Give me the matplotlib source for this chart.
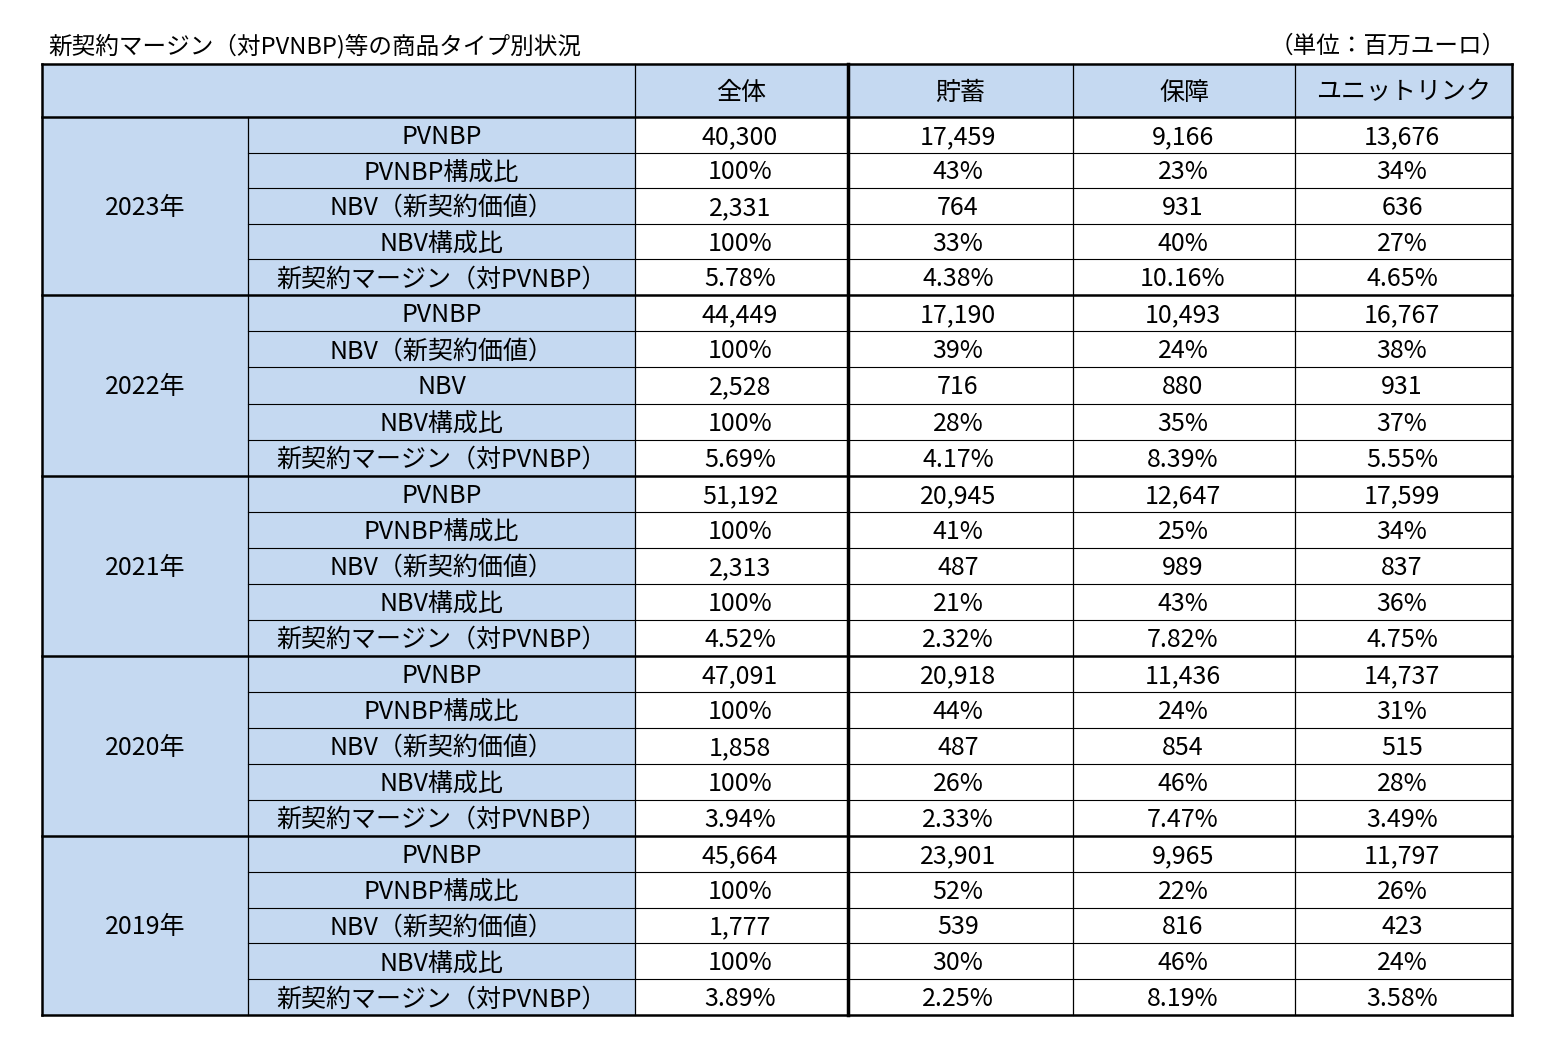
import matplotlib
matplotlib.use("Agg")
import matplotlib.pyplot as plt
from matplotlib.patches import Rectangle

plt.rcParams["font.family"] = "Noto Sans CJK JP"

title = "新契約マージン（対PVNBP)等の商品タイプ別状況"
unit = "（単位：百万ユーロ）"
columns = ["全体", "貯蓄", "保障", "ユニットリンク"]
years = ["2023年", "2022年", "2021年", "2020年", "2019年"]
row_labels = {
    "2023年": ["PVNBP", "PVNBP構成比", "NBV（新契約価値）", "NBV構成比", "新契約マージン（対PVNBP）"],
    "2022年": ["PVNBP", "NBV（新契約価値）", "NBV", "NBV構成比", "新契約マージン（対PVNBP）"],
    "2021年": ["PVNBP", "PVNBP構成比", "NBV（新契約価値）", "NBV構成比", "新契約マージン（対PVNBP）"],
    "2020年": ["PVNBP", "PVNBP構成比", "NBV（新契約価値）", "NBV構成比", "新契約マージン（対PVNBP）"],
    "2019年": ["PVNBP", "PVNBP構成比", "NBV（新契約価値）", "NBV構成比", "新契約マージン（対PVNBP）"],
}
values_2023 = [["40,300", "17,459", "9,166", "13,676"], ["100%", "43%", "23%", "34%"],
               ["2,331", "764", "931", "636"], ["100%", "33%", "40%", "27%"],
               ["5.78%", "4.38%", "10.16%", "4.65%"]]
values_2022 = [["44,449", "17,190", "10,493", "16,767"], ["100%", "39%", "24%", "38%"],
               ["2,528", "716", "880", "931"], ["100%", "28%", "35%", "37%"],
               ["5.69%", "4.17%", "8.39%", "5.55%"]]
values_2021 = [["51,192", "20,945", "12,647", "17,599"], ["100%", "41%", "25%", "34%"],
               ["2,313", "487", "989", "837"], ["100%", "21%", "43%", "36%"],
               ["4.52%", "2.32%", "7.82%", "4.75%"]]
values_2020 = [["47,091", "20,918", "11,436", "14,737"], ["100%", "44%", "24%", "31%"],
               ["1,858", "487", "854", "515"], ["100%", "26%", "46%", "28%"],
               ["3.94%", "2.33%", "7.47%", "3.49%"]]
values_2019 = [["45,664", "23,901", "9,965", "11,797"], ["100%", "52%", "22%", "26%"],
               ["1,777", "539", "816", "423"], ["100%", "30%", "46%", "24%"],
               ["3.89%", "2.25%", "8.19%", "3.58%"]]
all_values = [values_2023, values_2022, values_2021, values_2020, values_2019]

W, H = 1556, 1055
fig = plt.figure(figsize=(W / 100, H / 100), dpi=100)
ax = fig.add_axes([0, 0, 1, 1])
ax.set_xlim(0, W)
ax.set_ylim(H, 0)
ax.axis("off")

blue = "#C5D9F1"
xs = [42, 248, 635, 848, 1073, 1295, 1512]
y_head0, y_head1 = 64, 117
block_tops = [117, 295, 476, 656, 836, 1015]
fs = 18

ax.text(48, 46, title, fontsize=17, va="center", ha="left")
ax.text(1506, 46, unit, fontsize=17, va="center", ha="right")

# header
ax.add_patch(Rectangle((xs[0], y_head0), xs[2] - xs[0], y_head1 - y_head0, fc=blue, ec="none"))
for j, c in enumerate(columns):
    ax.add_patch(Rectangle((xs[j + 2], y_head0), xs[j + 3] - xs[j + 2], y_head1 - y_head0, fc=blue, ec="none"))
    ax.text((xs[j + 2] + xs[j + 3]) / 2, (y_head0 + y_head1) / 2 + 2, c, fontsize=fs, ha="center", va="center")

data_cx = [740, 958, 1183, 1402]
for b, yr in enumerate(years):
    t, bt = block_tops[b], block_tops[b + 1]
    ax.add_patch(Rectangle((xs[0], t), xs[2] - xs[0], bt - t, fc=blue, ec="none"))
    ax.text((xs[0] + xs[1]) / 2, (t + bt) / 2 + 2, yr, fontsize=fs, ha="center", va="center")
    rh = (bt - t) / 5
    for r in range(5):
        y0 = t + r * rh
        yc = y0 + rh / 2 + 2
        ax.text((xs[1] + xs[2]) / 2, yc, row_labels[yr][r], fontsize=fs, ha="center", va="center")
        for j in range(4):
            ax.text(data_cx[j], yc, all_values[b][r][j], fontsize=fs, ha="center", va="center")
        if r > 0:
            ax.plot([xs[1], xs[6]], [y0, y0], color="black", lw=0.8)
    ax.plot([xs[0], xs[6]], [t, t], color="black", lw=1.8)

ax.plot([xs[0], xs[6]], [y_head0, y_head0], color="black", lw=1.8)
ax.plot([xs[0], xs[6]], [block_tops[-1], block_tops[-1]], color="black", lw=1.8)
for i, x in enumerate(xs):
    top = y_head0 if i != 1 else y_head1
    lw = 2.5 if i == 3 else (1.8 if i in (0, 6) else 0.9)
    ax.plot([x, x], [top, block_tops[-1]], color="black", lw=lw)

fig.savefig("out.png", dpi=100)
